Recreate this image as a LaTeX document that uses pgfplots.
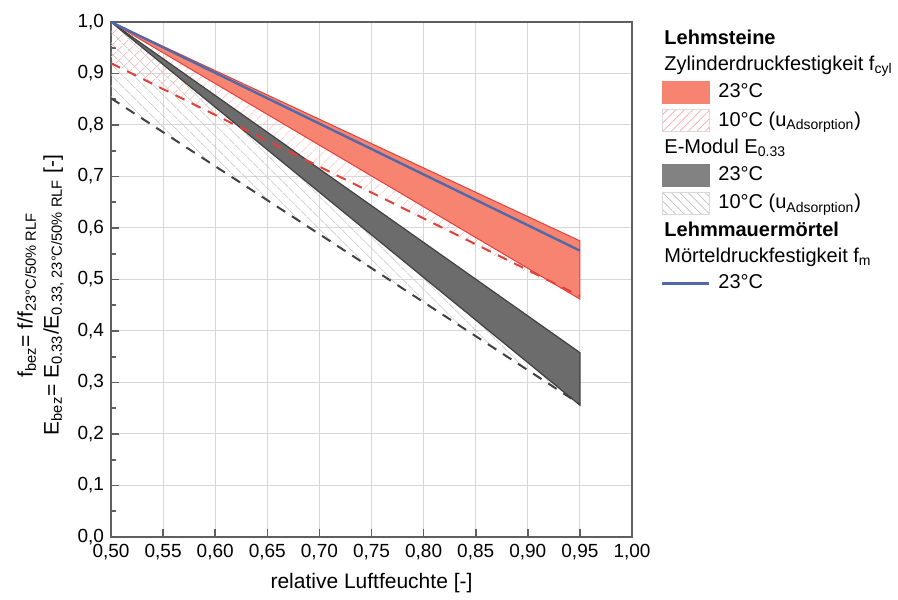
\documentclass[border=0pt]{standalone}
\usepackage{fontspec}
\setmainfont{Liberation Sans}
\usepackage{pgfplots}
\pgfplotsset{compat=1.18}
\usetikzlibrary{patterns.meta}

\definecolor{redfill}{RGB}{247,132,112}
\definecolor{rededge}{RGB}{225,65,60}
\definecolor{grayfill}{RGB}{108,108,108}
\definecolor{grayedge}{RGB}{65,65,65}
\definecolor{blueline}{RGB}{80,105,170}
\definecolor{gridgray}{RGB}{215,215,215}
\definecolor{axisgray}{RGB}{95,95,95}

\newcommand{\tickfont}{\fontsize{9.5}{11}\selectfont}
\newcommand{\legfont}{\fontsize{10}{12}\selectfont}
\newcommand{\labfont}{\fontsize{10.5}{13}\selectfont}
\newcommand{\hdr}{\hspace*{-27pt}}

\begin{document}
\begin{tikzpicture}
\begin{axis}[
  name=main,
  scale only axis, width=260.5pt, height=257.5pt,
  xmin=0.5, xmax=1.0, ymin=0, ymax=1,
  xtick={0.5,0.55,0.6,0.65,0.7,0.75,0.8,0.85,0.9,0.95,1.0},
  ytick={0,0.1,0.2,0.3,0.4,0.5,0.6,0.7,0.8,0.9,1.0},
  minor y tick num=1,
  scaled ticks=false,
  grid=major, major grid style={gridgray, line width=0.5pt},
  tick align=inside, tick pos=left,
  axis line style={axisgray, line width=1pt},
  tick style={axisgray, line width=0.8pt},
  major tick length=4pt, minor tick length=2.5pt,
  tick label style={font=\tickfont},
  x tick label style={/pgf/number format/.cd, fixed, fixed zerofill, precision=2, use comma, assume math mode=true},
  y tick label style={/pgf/number format/.cd, fixed, fixed zerofill, precision=1, use comma, assume math mode=true},
  xlabel={relative Luftfeuchte [-]},
  ylabel={f\textsubscript{bez}= f/f\textsubscript{23°C/50\% RLF}\\
          E\textsubscript{bez}= E\textsubscript{0.33}/E\textsubscript{0.33, 23°C/50\% RLF} [-]},
  label style={font=\labfont},
  ylabel style={align=center, at={(ticklabel cs:0.47)}},
  legend style={draw=none, fill=none, at={(1.055,0.99)}, anchor=north west,
    font=\legfont, row sep=2.6pt, column sep=3pt, inner sep=0pt,
    nodes={inner sep=1pt}},
  legend cell align=left,
]
% 10 degC hatched ranges
\addplot[forget plot, draw=none, pattern={Lines[angle=-45,distance=4pt,line width=0.4pt]}, pattern color=gray!55]
  coordinates {(0.5,1.0) (0.95,0.258) (0.5,0.852) (0.5,1.0)};
\addplot[forget plot, draw=none, pattern={Lines[angle=45,distance=4pt,line width=0.35pt]}, pattern color=red!30]
  coordinates {(0.5,1.0) (0.95,0.462) (0.5,0.920) (0.5,1.0)};
% 23 degC bands
\addplot[forget plot, fill=grayfill, draw=grayedge, line width=0.6pt]
  coordinates {(0.5,1.0) (0.95,0.358) (0.95,0.256) (0.5,1.0)};
\addplot[forget plot, fill=redfill, draw=rededge, line width=0.5pt]
  coordinates {(0.5,1.0) (0.95,0.575) (0.95,0.462) (0.5,1.0)};
% lower limits 10 degC
\addplot[forget plot, grayedge, line width=1pt, dash pattern=on 5pt off 4pt]
  coordinates {(0.5,0.852) (0.95,0.258)};
\addplot[forget plot, rededge, line width=1pt, dash pattern=on 5pt off 4pt]
  coordinates {(0.5,0.920) (0.95,0.468)};
% Moertel
\addplot[forget plot, blueline, line width=1.2pt]
  coordinates {(0.5,1.0) (0.95,0.556)};

% legend
\addlegendimage{empty legend}
\addlegendentry{\hdr\textbf{Lehmsteine}}
\addlegendimage{empty legend}
\addlegendentry{\hdr Zylinderdruckfestigkeit f\textsubscript{cyl}}
\addlegendimage{legend image code/.code={\fill[redfill] (0pt,-5.5pt) rectangle (23.5pt,5.5pt);}}
\addlegendentry{23°C}
\addlegendimage{legend image code/.code={\draw[gray!30, line width=0.3pt, pattern={Lines[angle=45,distance=3pt,line width=0.4pt]}, pattern color=red!35] (0pt,-5.5pt) rectangle (23.5pt,5.5pt);}}
\addlegendentry{10°C (u\textsubscript{Adsorption})}
\addlegendimage{empty legend}
\addlegendentry{\hdr E-Modul E\textsubscript{0.33}}
\addlegendimage{legend image code/.code={\fill[grayfill!85] (0pt,-5.5pt) rectangle (23.5pt,5.5pt);}}
\addlegendentry{23°C}
\addlegendimage{legend image code/.code={\draw[gray!30, line width=0.3pt, pattern={Lines[angle=-45,distance=3pt,line width=0.4pt]}, pattern color=gray!50] (0pt,-5.5pt) rectangle (23.5pt,5.5pt);}}
\addlegendentry{10°C (u\textsubscript{Adsorption})}
\addlegendimage{empty legend}
\addlegendentry{\hdr\textbf{Lehmmauermörtel}}
\addlegendimage{empty legend}
\addlegendentry{\hdr Mörteldruckfestigkeit f\textsubscript{m}}
\addlegendimage{legend image code/.code={\draw[blueline, line width=1.2pt] (0pt,0pt) -- (23.5pt,0pt);}}
\addlegendentry{23°C}
\end{axis}
\pgfresetboundingbox
\path (main.south west) ++(-55.5pt,-31pt) rectangle ++(449pt,299.5pt);
\end{tikzpicture}
\end{document}
